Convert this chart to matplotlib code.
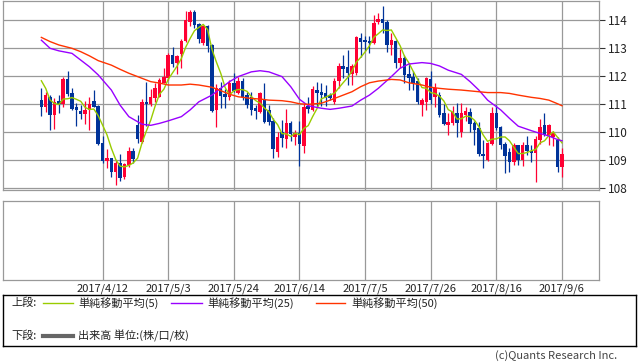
import numpy as np
import pandas as pd
import matplotlib
matplotlib.use("Agg")
import matplotlib.pyplot as plt
from matplotlib.lines import Line2D

plt.rcParams['font.family'] = ['Noto Sans CJK JP', 'DejaVu Sans']

# ---------------- data ----------------
dates = pd.bdate_range('2017-03-23', '2017-09-06')

opens = [111.15, 110.91, 111.27, 110.62, 111.13, 111.02, 111.89, 111.39, 110.90, 110.76,
         110.66, 110.80, 111.12, 110.94, 109.61, 108.99, 109.08, 108.59, 108.91, 108.39,
         108.83, 109.33, 110.25, 109.66, 111.09, 111.00, 111.21, 111.27, 111.77, 111.93,
         112.76, 112.46, 112.80, 113.27, 113.95, 114.31, 113.87, 113.18, 113.81, 113.12,
         110.80, 111.60, 111.36, 111.27, 111.75, 111.39, 111.84, 111.33, 111.25, 110.86,
         110.74, 111.15, 110.80, 110.40, 109.30, 110.02, 109.75, 110.34, 109.85, 109.99,
         109.52, 110.94, 110.80, 111.51, 111.45, 111.39, 111.33, 111.09, 111.83, 112.37,
         112.32, 112.08, 112.11, 113.36, 113.30, 113.27, 113.18, 113.93, 114.05, 113.95,
         113.12, 113.27, 112.49, 112.64, 112.08, 111.99, 111.85, 110.98, 111.09, 111.89,
         111.27, 111.33, 110.70, 110.26, 110.34, 110.68, 110.02, 110.62, 110.72, 110.32,
         110.14, 109.22, 109.01, 109.58, 110.68, 110.20, 109.58, 109.31, 108.95, 109.55,
         109.01, 109.55, 109.34, 109.25, 109.74, 110.26, 109.92, 109.82, 109.72, 108.77]
highs = [111.57, 111.45, 111.32, 111.21, 111.35, 111.96, 112.20, 111.57, 111.06, 110.97,
         111.13, 111.27, 111.50, 110.98, 109.87, 109.40, 109.10, 109.01, 109.22, 108.91,
         109.49, 109.44, 110.62, 111.18, 111.81, 111.54, 111.75, 111.93, 112.31, 112.82,
         113.06, 112.76, 113.32, 114.33, 114.37, 114.37, 113.90, 113.83, 113.85, 113.15,
         111.71, 111.80, 111.55, 111.87, 112.11, 111.96, 111.93, 111.45, 111.45, 110.97,
         111.45, 111.75, 110.97, 110.50, 110.02, 110.44, 110.82, 110.40, 110.10, 110.40,
         111.04, 111.27, 111.65, 111.81, 111.75, 111.70, 111.40, 111.93, 112.46, 112.76,
         112.94, 112.45, 113.45, 113.54, 113.45, 113.45, 114.19, 114.27, 114.51, 114.00,
         113.54, 113.30, 112.96, 112.76, 112.46, 112.20, 111.95, 111.21, 111.99, 112.19,
         111.75, 111.45, 111.00, 110.68, 110.95, 111.04, 111.04, 110.90, 110.86, 110.40,
         110.38, 109.72, 109.65, 110.89, 110.97, 110.22, 109.65, 109.43, 109.63, 109.56,
         109.65, 109.87, 109.55, 109.87, 110.47, 110.69, 110.28, 110.05, 109.82, 109.43]
lows = [110.58, 110.74, 110.08, 110.12, 110.69, 110.91, 111.30, 110.80, 110.24, 110.46,
        110.29, 110.10, 110.90, 109.55, 108.89, 108.71, 108.41, 108.11, 108.27, 108.34,
        108.77, 108.91, 109.63, 109.63, 110.23, 110.94, 111.09, 111.25, 111.75, 111.87,
        112.34, 112.08, 112.30, 113.22, 113.80, 113.71, 113.18, 113.12, 112.88, 110.74,
        110.20, 110.88, 110.86, 111.15, 111.44, 111.37, 111.15, 110.86, 110.62, 110.46,
        110.68, 110.33, 110.26, 109.10, 109.11, 109.49, 109.43, 109.70, 109.55, 108.80,
        109.26, 110.70, 110.75, 110.91, 110.95, 110.95, 111.15, 111.00, 111.57, 111.93,
        111.69, 111.70, 112.05, 112.70, 112.90, 112.85, 113.15, 113.87, 113.54, 112.88,
        112.76, 112.29, 112.30, 111.75, 111.51, 111.50, 111.00, 110.58, 110.80, 111.00,
        110.90, 110.55, 110.25, 109.90, 110.25, 109.84, 109.82, 110.40, 110.02, 109.55,
        109.15, 108.71, 108.98, 109.55, 110.10, 109.40, 108.56, 108.59, 108.83, 108.85,
        108.80, 109.20, 108.95, 108.24, 109.60, 109.88, 109.55, 109.50, 108.59, 108.41]
closes = [110.91, 111.33, 110.62, 111.09, 111.02, 111.89, 111.37, 110.84, 110.78, 110.66,
          110.80, 111.00, 110.92, 109.58, 108.98, 109.08, 108.60, 108.91, 108.38, 108.87,
          109.33, 109.06, 109.75, 111.09, 111.00, 111.27, 111.57, 111.87, 111.99, 112.76,
          112.44, 112.73, 113.27, 114.01, 114.31, 113.83, 113.32, 113.80, 113.08, 110.77,
          111.60, 111.30, 111.27, 111.75, 111.49, 111.84, 111.27, 110.98, 110.80, 110.77,
          111.39, 110.38, 110.38, 109.40, 109.82, 109.79, 110.32, 109.94, 109.96, 109.57,
          110.91, 110.82, 111.54, 111.39, 111.33, 111.21, 111.21, 111.83, 112.37, 112.25,
          112.11, 112.37, 113.42, 113.24, 113.22, 113.20, 113.89, 114.05, 113.92, 113.12,
          113.30, 112.49, 112.64, 112.05, 111.93, 111.77, 111.09, 111.15, 111.93, 111.15,
          111.60, 110.62, 110.30, 110.38, 110.73, 110.34, 110.68, 110.76, 110.30, 110.08,
          109.22, 109.15, 109.63, 110.70, 110.14, 109.55, 109.15, 108.95, 109.55, 109.01,
          109.55, 109.34, 109.27, 109.77, 110.20, 109.90, 110.27, 109.96, 108.77, 109.22]
prior_closes = [112.70, 112.70, 111.70, 111.20]   # closes before the first shown day

# 25- and 50-day moving averages
ma_idx = [0, 2, 4, 7, 9, 11, 13, 16, 18, 20, 23, 25, 27, 29, 32, 34, 36, 39, 41, 43,
          45, 48, 50, 52, 55, 57, 59, 61, 64, 66, 68, 71, 73, 75, 77, 80, 82, 84, 87,
          89, 91, 93, 96, 98, 100, 102, 105, 107, 109, 112, 114, 116, 118, 119]
ma25 = [113.29, 113.00, 112.91, 112.82, 112.58, 112.34, 112.05, 111.51, 110.97, 110.56,
        110.29, 110.25, 110.32, 110.41, 110.56, 110.80, 111.09, 111.33, 111.57, 111.81,
        111.99, 112.16, 112.20, 112.16, 111.99, 111.63, 111.18, 110.95, 110.86, 110.82,
        110.86, 110.94, 111.15, 111.33, 111.57, 111.99, 112.29, 112.44, 112.49, 112.46,
        112.37, 112.22, 112.07, 111.81, 111.51, 111.15, 110.80, 110.50, 110.22, 110.06,
        109.96, 109.87, 109.74, 109.70]
ma50 = [113.39, 113.24, 113.12, 113.00, 112.88, 112.73, 112.56, 112.40, 112.25, 112.11,
        111.93, 111.81, 111.76, 111.69, 111.69, 111.72, 111.69, 111.61, 111.49, 111.36,
        111.27, 111.21, 111.19, 111.15, 111.13, 111.09, 111.02, 111.00, 111.04, 111.15,
        111.27, 111.45, 111.63, 111.77, 111.83, 111.89, 111.87, 111.77, 111.69, 111.61,
        111.57, 111.54, 111.51, 111.48, 111.45, 111.42, 111.42, 111.39, 111.33, 111.25,
        111.21, 111.15, 111.02, 110.95]

yticks = [108, 109, 110, 111, 112, 113, 114]
date_tick_idx = [14, 29, 44, 59, 74, 89, 104, 119]
date_tick_labels = [f"{dates[i].year}/{dates[i].month}/{dates[i].day}" for i in date_tick_idx]

legend_upper = ["単純移動平均(5)", "単純移動平均(25)", "単純移動平均(50)"]
legend_lower = "出来高 単位:(株/口/枚)"

# ---------------- styles ----------------
UP = '#FF0033'
DOWN = '#003399'
C5 = '#99CC00'
C25 = '#9900FF'
C50 = '#FF3300'
GRID = '#999999'

W, H = 638, 362
fig = plt.figure(figsize=(W / 100, H / 100), dpi=100)

def fx(px):
    return px / W

def fy(py):
    return 1 - py / H

L, R = 3.3, 598.5
ax = fig.add_axes([fx(L), fy(190.3), fx(R) - fx(L), fy(1) - fy(190.3)])
vol = fig.add_axes([fx(L), fy(279.7), fx(R) - fx(L), fy(201.3) - fy(279.7)])

n = len(closes)
x = np.arange(n)
o = np.array(opens); c = np.array(closes); h = np.array(highs); l = np.array(lows)
up = c >= o
cols = np.where(up, UP, DOWN)

# wicks
ax.vlines(x, l, h, colors=cols, linewidth=0.9, zorder=3)
# bodies
body_bottom = np.minimum(o, c)
body_h = np.maximum(np.abs(c - o), 0.035)
ax.bar(x, body_h, bottom=body_bottom, width=0.8, color=cols, linewidth=0, zorder=4)

# moving averages
all_c = np.array(prior_closes + closes)
sma5 = pd.Series(all_c).rolling(5).mean().to_numpy()[len(prior_closes):]
ax.plot(x, sma5, color=C5, linewidth=1.0, zorder=5)
ax.plot(ma_idx, ma25, color=C25, linewidth=1.0, zorder=5)
ax.plot(ma_idx, ma50, color=C50, linewidth=1.0, zorder=5)

ax.set_xlim(-8.7, 127.35)
ax.set_ylim(107.93, 114.69)
ax.set_yticks(yticks)
ax.yaxis.tick_right()
ax.tick_params(axis='y', direction='out', length=4, width=0.8, color='#333333',
               labelsize=8.5, pad=3, labelcolor='#222222')
ax.set_xticks(date_tick_idx)
ax.tick_params(axis='x', length=0, labelbottom=False)
ax.grid(True, color=GRID, linewidth=0.9, zorder=0)
ax.set_axisbelow(True)
for s in ax.spines.values():
    s.set_color(GRID)
    s.set_linewidth(0.9)

vol.set_xlim(-8.7, 127.35)
vol.set_ylim(0, 1)
vol.set_yticks([])
vol.set_xticks(date_tick_idx)
vol.set_xticklabels(date_tick_labels, fontsize=8, color='#222222')
vol.tick_params(axis='x', length=0, pad=3)
vol.grid(True, axis='x', color=GRID, linewidth=0.9)
for s in vol.spines.values():
    s.set_color(GRID)
    s.set_linewidth(0.9)

# legend box
lg = fig.add_axes([fx(3.3), fy(345.5), fx(636) - fx(3.3), fy(295) - fy(345.5)])
lg.set_xticks([]); lg.set_yticks([])
for s in lg.spines.values():
    s.set_color('black')
    s.set_linewidth(1.0)
lg.patch.set_alpha(0)

row1, row2 = 303, 335.5
fig.text(fx(11), fy(row1), "上段:", fontsize=8, va='center', ha='left', color='#222222')
fig.text(fx(11), fy(row2), "下段:", fontsize=8, va='center', ha='left', color='#222222')
for (x0, x1, tx), col, lab in zip([(43, 73, 78), (171, 202, 207), (316, 345, 351)],
                                  [C5, C25, C50], legend_upper):
    fig.add_artist(Line2D([fx(x0), fx(x1)], [fy(row1), fy(row1)], color=col, linewidth=1.0))
    fig.text(fx(tx), fy(row1), lab, fontsize=8, va='center', ha='left', color='#222222')
fig.add_artist(Line2D([fx(43), fx(73)], [fy(row2), fy(row2)], color='#666666', linewidth=3.0))
fig.text(fx(78), fy(row2), legend_lower, fontsize=8, va='center', ha='left', color='#222222')

fig.text(fx(617), fy(356), "(c)Quants Research Inc.", fontsize=8, ha='right', va='center',
         color='#444444')

fig.savefig('out.png', dpi=100)
